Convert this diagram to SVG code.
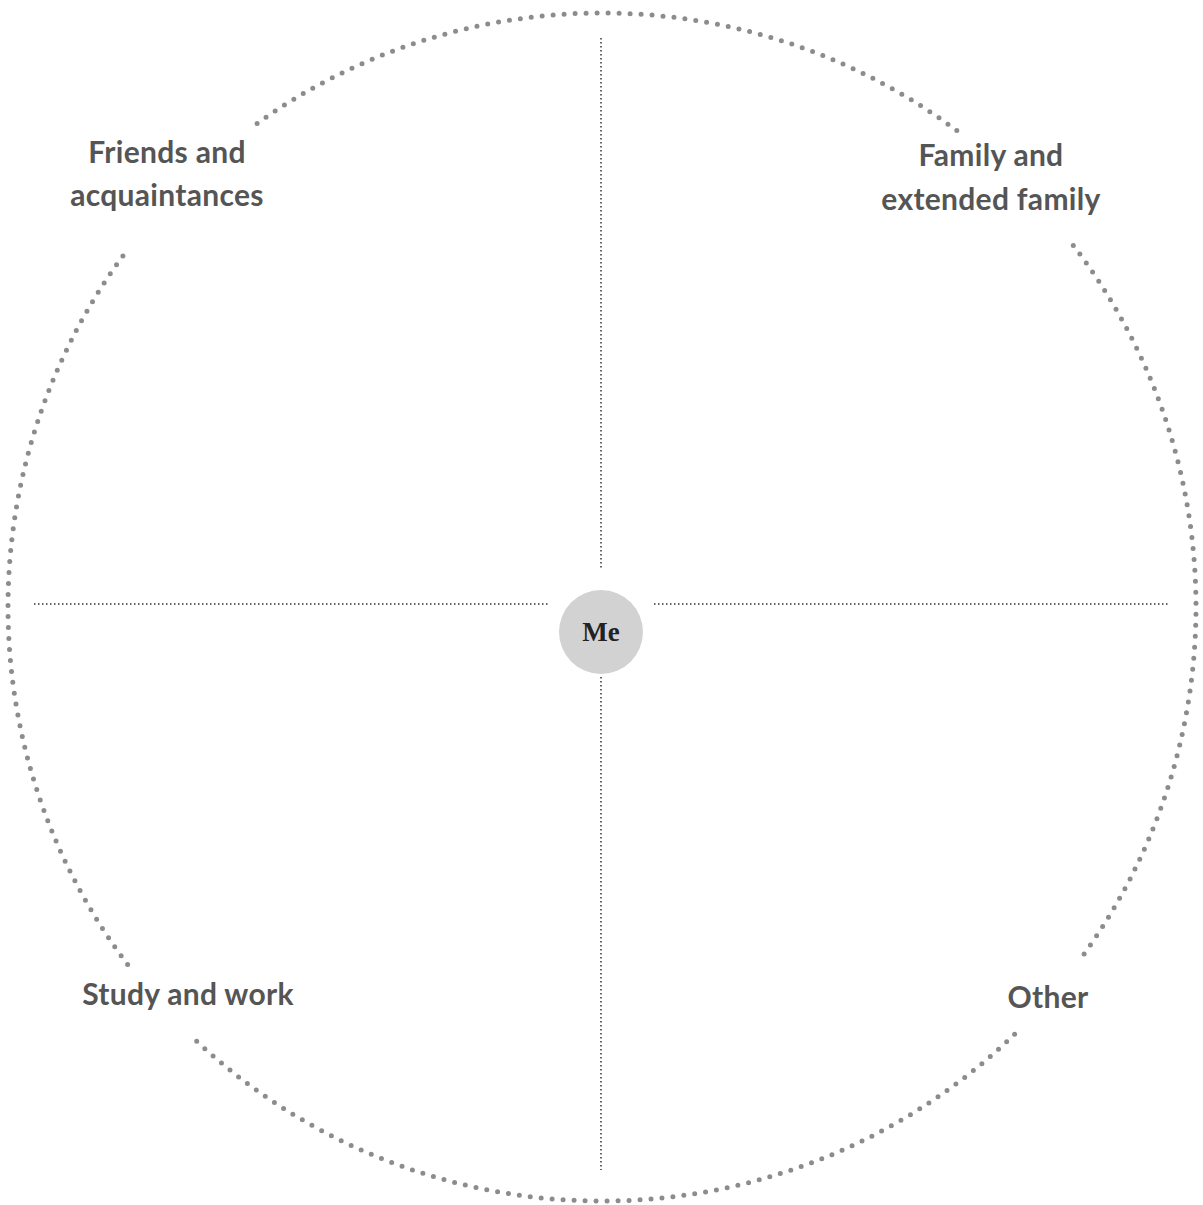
<svg xmlns="http://www.w3.org/2000/svg" width="1203" height="1205" viewBox="0 0 1203 1205">
<style>
.ring{fill:none;stroke:#8c8c8c;stroke-width:5;stroke-linecap:round;stroke-dasharray:0 11}
.axis{fill:none;stroke:#333;stroke-width:1.5;stroke-dasharray:1.5 2.5}
.lbl{font-family:Lato,"Open Sans","Liberation Sans",sans-serif;font-weight:bold;font-size:30px;letter-spacing:0.3px;fill:#555;text-anchor:middle}
.me{font-family:"Liberation Serif","DejaVu Serif",serif;font-weight:bold;font-size:27px;fill:#222;text-anchor:middle}
</style>
<rect width="1203" height="1205" fill="#fff"/>
<g id="connectors">
<path class="ring" d="M1073.3,245.4 A594,594 0 0 1 1080.7,958.6"/>
<path class="ring" d="M1014.6,1034.3 A594,594 0 0 1 192.4,1037.2"/>
<path class="ring" d="M127.6,964.5 A594,594 0 0 1 127.0,250.4"/>
<path class="ring" d="M257.1,123.4 A594,594 0 0 1 959.5,132.6"/>
<line class="axis" x1="601" y1="38" x2="601" y2="569"/>
<line class="axis" x1="601" y1="677" x2="601" y2="1170"/>
<line class="axis" x1="34" y1="604" x2="548" y2="604"/>
<line class="axis" x1="654" y1="604" x2="1170" y2="604"/>
</g>
<g id="me">
<circle cx="601" cy="632" r="42" fill="#d2d2d3"/>
<text class="me" x="601" y="641">Me</text>
</g>
<g id="friends">
<text class="lbl" x="167" y="163">Friends and</text>
<text class="lbl" x="167" y="206">acquaintances</text>
</g>
<g id="family">
<text class="lbl" x="991" y="166">Family and</text>
<text class="lbl" x="991" y="210">extended family</text>
</g>
<g id="study">
<text class="lbl" x="188" y="1005">Study and work</text>
</g>
<g id="other">
<text class="lbl" x="1048" y="1008">Other</text>
</g>
</svg>
